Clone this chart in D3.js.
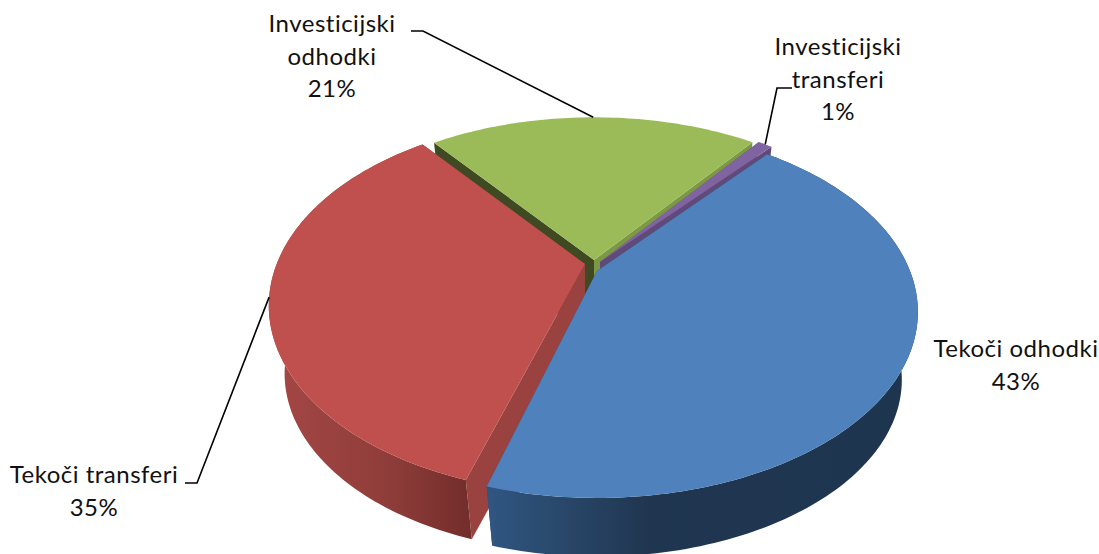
<!DOCTYPE html>
<html>
<head>
<meta charset="utf-8">
<script src="https://cdn.jsdelivr.net/npm/d3@7"></script>
<style>
html, body { margin: 0; padding: 0; background: #fff; overflow: hidden; }
svg { display: block; }
text { font-family: Lato, sans-serif; font-size: 24px; letter-spacing: 0.5px; font-variant-ligatures: none; fill: #111; }
</style>
</head>
<body>
<div id="chart"></div>
<script>
// chart data
const categories = ["Tekoči odhodki", "Tekoči transferi", "Investicijski odhodki", "Investicijski transferi"];
const values = [43.4, 34.9, 20.8, 0.9];
const labelLines = [
    ["Tekoči odhodki"],
    ["Tekoči transferi"],
    ["Investicijski", "odhodki"],
    ["Investicijski", "transferi"]
];

const topColors = ["#4f81bd", "#c0504d", "#9bbb59", "#8064a2"];
const startWall = ["#2d4a6e", "#9a423f", "#3f4a22", "#5f4a7a"];
const endWall = ["#2d4a6e", "#7a302e", "#7d9844", "#5f4a7a"];
// only the two front slices show their outer wall
const sideRamp = [
    [["0%", "#2f5580"], ["20%", "#284566"], ["38%", "#203650"], ["100%", "#1e3550"]],
    [["0%", "#a24644"], ["55%", "#8f3d3a"], ["100%", "#722d2b"]],
    null,
    null
];

const width = 1099, height = 554;

// ground-plane to screen, with a bit of perspective
const ax = 592, ay = 264;
const A = 313, B = 177, k = 0.22;
const depth = 70, shrink = 0.95;
// how far each slice is pulled out of the pie, screen px
const shiftX = [5, -7, 2, 8];
const shiftY = [7, 0, -4, -2];
const radiusU = [1, 0.985, 0.98, 0.985];
const radiusV = [1, 1.01, 0.98, 1];
// small corrections of the cut edges, degrees
const startPad = [-1, 1, 0, 0];
const endPad = [-0.6, -0.6, 0, 0];

function project(i, u, v, bottom) {
    let uu = u * radiusU[i], vv = v * radiusV[i];
    let w = 1 - k * vv;
    let s = bottom ? shrink : 1;
    return [ax + shiftX[i] + s * A * uu / w, ay + shiftY[i] + (bottom ? depth : 0) + s * B * vv / w];
}
function rimPoint(i, angle, bottom) {
    return project(i, Math.sin(angle), -Math.cos(angle), bottom);
}
function rim(i, a0, a1, bottom) {
    let n = Math.max(2, Math.ceil((a1 - a0) / 0.02));
    return d3.range(n + 1).map(j => rimPoint(i, a0 + (a1 - a0) * j / n, bottom));
}

const rad = Math.PI / 180;
const start = 40.5 * rad;
const pie = d3.pie().sort(null).startAngle(start).endAngle(start + 2 * Math.PI);
const slices = pie(values).map((d, i) => ({
    a0: d.startAngle + startPad[i] * rad,
    a1: d.endAngle + endPad[i] * rad
}));

const svg = d3.select("#chart").append("svg")
    .attr("width", width)
    .attr("height", height);

const defs = svg.append("defs");
const line = d3.line();

sideRamp.forEach((ramp, i) => {
    if (!ramp) return;
    let xs = rim(i, slices[i].a0, slices[i].a1, true).map(p => p[0]);
    let grad = defs.append("linearGradient")
        .attr("id", "side" + i)
        .attr("gradientUnits", "userSpaceOnUse")
        .attr("x1", d3.min(xs)).attr("x2", d3.max(xs))
        .attr("y1", 0).attr("y2", 0);
    ramp.forEach(s => grad.append("stop").attr("offset", s[0]).attr("stop-color", s[1]));
});

// back to front: green, purple, red, blue
const order = [2, 3, 1, 0];

order.forEach(i => {
    let d = slices[i];
    let g = svg.append("g").attr("class", "slice");
    let apexTop = project(i, 0, 0, false), apexBottom = project(i, 0, 0, true);

    // the two cut faces, the far one first
    g.append("path")
        .attr("d", line([apexTop, rimPoint(i, d.a1, false), rimPoint(i, d.a1, true), apexBottom]) + "Z")
        .attr("fill", endWall[i]);
    g.append("path")
        .attr("d", line([apexTop, rimPoint(i, d.a0, false), rimPoint(i, d.a0, true), apexBottom]) + "Z")
        .attr("fill", startWall[i]);

    let topRim = rim(i, d.a0, d.a1, false);
    if (sideRamp[i]) {
        let lowRim = rim(i, d.a0, d.a1, true).reverse();
        g.append("path")
            .attr("d", line(topRim.concat(lowRim)) + "Z")
            .attr("fill", "url(#side" + i + ")");
    }

    // top face
    g.append("path")
        .attr("d", line([apexTop].concat(topRim)) + "Z")
        .attr("fill", topColors[i]);
});

// data labels, leader lines end on the rim at the middle of the slice
const labelX = [1016, 94, 332, 838];
const labelY = [357, 483, 32, 55];
const elbows = [null, [[185, 483], [197, 483]], [[411, 31], [423, 31]], [[792, 88], [777, 88]]];

slices.forEach((d, i) => {
    if (elbows[i]) {
        let mid = (d.a0 + d.a1) / 2;
        svg.append("path")
            .attr("d", line(elbows[i].concat([rimPoint(i, mid, false)])))
            .attr("fill", "none")
            .attr("stroke", "#000")
            .attr("stroke-width", 1.6);
    }
    let rows = labelLines[i].concat([Math.round(values[i]) + "%"]);
    rows.forEach((t, r) => {
        svg.append("text")
            .attr("x", labelX[i])
            .attr("y", labelY[i] + r * 32.5)
            .attr("text-anchor", "middle")
            .text(t);
    });
});
</script>
</body>
</html>
